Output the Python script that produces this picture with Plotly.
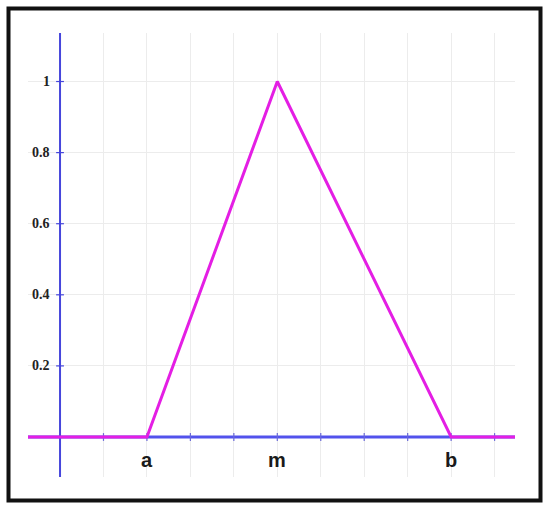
import plotly.graph_objects as go

# triangular membership function: a, m, b on the x axis
x_ticks = [1, 2, 3, 4, 5, 6, 7, 8, 9, 10]
x_labels = {2: "a", 5: "m", 9: "b"}
y_ticks = [0.2, 0.4, 0.6, 0.8, 1.0]
y_labels = ["0.2", "0.4", "0.6", "0.8", "1"]

x_min, x_max = -0.737, 10.47
y_min, y_max = -0.1125, 1.1365

a, m, b = 2, 5, 9
mu_x = [x_min, a, m, b, x_max]
mu_y = [0, 0, 1, 0, 0]

AXIS_BLUE = "#4646dc"
MAGENTA = "#e41ee4"

fig = go.Figure()

# x axis (blue), partly covered by the magenta function
fig.add_trace(go.Scatter(
    x=[x_min, x_max], y=[0, 0], mode="lines",
    line=dict(color="#5252ec", width=3), hoverinfo="none"
))

# y axis
fig.add_trace(go.Scatter(
    x=[0, 0], y=[y_min, y_max], mode="lines",
    line=dict(color=AXIS_BLUE, width=2), hoverinfo="none"
))

# small tick marks across the axes
tx, ty = [], []
for t in x_ticks:
    tx += [t, t, None]
    ty += [-0.011, 0.011, None]
fig.add_trace(go.Scatter(
    x=tx, y=ty, mode="lines",
    line=dict(color="#6a6ad8", width=1.2), hoverinfo="none"
))
tx, ty = [], []
for t in y_ticks:
    tx += [-0.09, 0.09, None]
    ty += [t, t, None]
fig.add_trace(go.Scatter(
    x=tx, y=ty, mode="lines",
    line=dict(color=AXIS_BLUE, width=1.2), hoverinfo="none"
))

# membership function
fig.add_trace(go.Scatter(
    x=mu_x, y=mu_y, mode="lines",
    line=dict(color=MAGENTA, width=3), hoverinfo="none"
))

# y tick labels next to the axis
for t, lab in zip(y_ticks, y_labels):
    fig.add_annotation(
        x=-0.18, y=t, text="<b>%s</b>" % lab, showarrow=False, xanchor="right",
        font=dict(family="Liberation Serif", size=14, color="#222222"),
        xref="x", yref="y"
    )

# x labels a, m, b
for t, lab in x_labels.items():
    fig.add_annotation(
        x=t, y=-0.066, text="<b>%s</b>" % lab, showarrow=False,
        font=dict(family="Liberation Sans", size=20, color="#1a1a1a"),
        xref="x", yref="y"
    )

# black frame around the whole picture
fig.add_shape(
    type="rect", xref="paper", yref="paper",
    x0=(8.5 - 28) / 487, x1=(540.5 - 28) / 487,
    y0=-(500.5 - 477) / 444, y1=1 + (33 - 8.5) / 444,
    line=dict(color="#111111", width=4)
)

fig.update_layout(
    width=550, height=510,
    margin=dict(l=28, r=35, t=33, b=33),
    paper_bgcolor="white", plot_bgcolor="white",
    showlegend=False,
    xaxis=dict(range=[x_min, x_max], tickvals=x_ticks + [0], showticklabels=False,
               showgrid=True, gridcolor="#ececec", gridwidth=1, zeroline=False, ticks=""),
    yaxis=dict(range=[y_min, y_max], tickvals=[0] + y_ticks, showticklabels=False,
               showgrid=True, gridcolor="#ececec", gridwidth=1, zeroline=False, ticks=""),
)

fig.write_html("out.html", config={"displayModeBar": False},
               post_script="document.body.style.margin='0';")
